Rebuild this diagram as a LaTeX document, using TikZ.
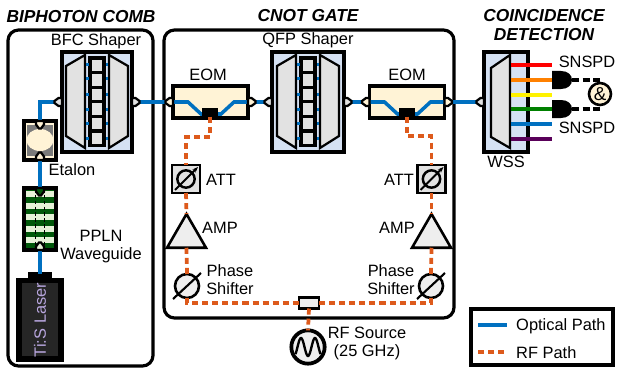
\documentclass[tikz,border=0pt]{standalone}
\usepackage{fontspec}
\setmainfont{Liberation Sans}
\usepackage{xcolor}
\usetikzlibrary{arrows.meta, shapes.geometric}

\definecolor{optblue}{HTML}{0070C0}
\definecolor{rforange}{HTML}{DD5A1C}
\definecolor{shaperblue}{HTML}{D5E1F3}
\definecolor{partgray}{HTML}{E2E2E2}
\definecolor{cream}{HTML}{FFF3D6}
\definecolor{pplndark}{HTML}{00580A}
\definecolor{pplnlight}{HTML}{E6F2D8}
\definecolor{laserlilac}{HTML}{B8A6DE}

\tikzset{
  lbl/.style={font=\fontsize{14}{15.4}\selectfont, align=center, inner sep=0pt},
  titlelbl/.style={font=\fontsize{14.8}{16.2}\selectfont\bfseries\itshape, align=center, inner sep=0pt},
  panel/.style={line width=2.7pt, rounded corners=9pt},
  device/.style={draw, line width=2.6pt, inner sep=0pt, outer sep=0pt},
  optical/.style={optblue, line width=3pt},
  rfpath/.style={rforange, line width=3.2pt, dash pattern=on 5.2pt off 3.4pt},
  ferrule/.pic={\draw[line width=1.9pt, line join=miter, fill=#1] (0,-4) -- (3.5,-4) -- (7.5,-1) -- (7.5,1) -- (3.5,4) -- (0,4) -- cycle;},
}

% grating, mask cells and grating of one pulse shaper
\newcommand{\shaperbody}[1]{
  \begin{scope}[shift={(#1,0)}]
    \draw[line width=1.9pt, fill=partgray] (-31,66) -- (-12,55) -- (-12,148) -- (-31,136) -- cycle;
    \draw[line width=1.9pt, fill=partgray] (31,66) -- (12,55) -- (12,148) -- (31,136) -- cycle;
    \foreach \y in {58,72.6,87.2,101.8,116.4,131}
      \draw[line width=2.6pt, fill=partgray] (-7,\y) rectangle (7,\y+14.6);
    \foreach \y in {65,79,94,109,123,138} {
      \fill[optblue] (-11,\y-1.5) rectangle (-8.5,\y+1.5);
      \fill[optblue] (8.5,\y-1.5) rectangle (11,\y+1.5);
    }
  \end{scope}
}

\begin{document}
\begin{tikzpicture}[x=0.03cm, y=-0.03cm]
\useasboundingbox (0,0) rectangle (617,368);

% panels
\draw[panel] (8,30) rectangle (153,366);
\draw[panel] (164,30) rectangle (454,318);
\node[titlelbl] (titlecomb) at (81,17) {BIPHOTON COMB};
\node[titlelbl] (titlegate) at (308,16) {CNOT GATE};
\node[titlelbl] (titledet) at (544,25) {COINCIDENCE\\DETECTION};

% optical devices
\node[device, fill=shaperblue, minimum width=2.1cm, minimum height=3cm] (bfc) at (97,102) {};
\node[device, fill=shaperblue, minimum width=2.16cm, minimum height=3cm] (qfp) at (308,102) {};
\node[device, fill=shaperblue, minimum width=1.32cm, minimum height=3cm] (wss) at (506,102) {};
\node[device, fill=cream, minimum width=2.25cm, minimum height=0.96cm] (eoma) at (210.5,102) {};
\node[device, fill=cream, minimum width=2.25cm, minimum height=0.96cm] (eomb) at (407,102) {};
\node[device, fill=cream, minimum width=0.96cm, minimum height=1.17cm] (etalon) at (40,140.5) {};
\node[device, fill=pplndark, minimum width=0.96cm, minimum height=1.86cm] (ppln) at (40,219) {};
\node[device, fill=black, minimum width=1.32cm, minimum height=2.4cm] (laser) at (40,320) {};
\node[device, fill=black, minimum width=0.6cm, minimum height=0.2cm] (lasertop) at (40,277) {};

\shaperbody{97}
\shaperbody{308}
\draw[line width=1.9pt, fill=partgray] (491,68) -- (510,55) -- (510,148) -- (491,137) -- cycle;

% etalon, ppln and laser details
\fill[black!52] (27,125) rectangle (53,156);
\fill[cream] (40,140) ellipse (13.5 and 11);
\foreach \y in {191,202.5,214,225.5,237}
  \fill[pplnlight] (26,\y) rectangle (54,\y+6);
\draw[densely dashed, line width=0.8pt] (35,189) -- (35,249);
\draw[densely dashed, line width=0.8pt] (44,189) -- (44,249);
\fill[black!85] (22,283) rectangle (58,356);
\node[lbl, rotate=90, text=laserlilac] (laserlbl) at (40,320) {Ti:S Laser};

% optical path
\draw[optical] (bfc.west) -| (etalon.north);
\draw[optical] (etalon.south) -- (ppln.north);
\draw[optical] (ppln.south) -- (lasertop.north);
\draw[optical] (bfc.east) -- (eoma.west);
\draw[optical] (eoma.east) -- (qfp.west);
\draw[optical] (qfp.east) -- (eomb.west);
\draw[optical] (eomb.east) -- (wss.west);
\draw[optical] (eoma.west) -- ++(15,0) -- ++(13,12) -- ++(20,0) -- ++(13,-12) -- (eoma.east);
\draw[optical] (eomb.west) -- ++(15,0) -- ++(13,12) -- ++(20,0) -- ++(13,-12) -- (eomb.east);

% fibre connectors
\path (bfc.west) pic[rotate=180] {ferrule=partgray};
\path (bfc.east) pic {ferrule=partgray};
\path (eoma.west) pic[rotate=180] {ferrule=cream};
\path (eoma.east) pic {ferrule=cream};
\path (qfp.west) pic[rotate=180] {ferrule=partgray};
\path (qfp.east) pic {ferrule=partgray};
\path (eomb.west) pic[rotate=180] {ferrule=cream};
\path (eomb.east) pic {ferrule=cream};
\path (wss.west) pic[rotate=180] {ferrule=partgray};
\path (etalon.north) pic[rotate=-90] {ferrule=cream};
\path (etalon.south) pic[rotate=90] {ferrule=cream};
\path (ppln.north) pic[rotate=-90] {ferrule=pplndark};
\path (ppln.south) pic[rotate=90] {ferrule=pplnlight};

% electrode pads
\node[fill=black, minimum width=0.48cm, minimum height=0.27cm, inner sep=0pt] (pada) at (210,112) {};
\node[fill=black, minimum width=0.48cm, minimum height=0.27cm, inner sep=0pt] (padb) at (407,112) {};

% RF parts
\node[device, line width=2.2pt, fill=partgray, minimum size=0.84cm] (atta) at (186,179) {};
\node[device, line width=2.2pt, fill=partgray, minimum size=0.84cm] (attb) at (431.5,179) {};
\node[regular polygon, regular polygon sides=3, draw, line width=2.2pt, fill=partgray!60, minimum size=1.35cm, inner sep=0pt, outer sep=0pt] (ampa) at (186.5,236.5) {};
\node[regular polygon, regular polygon sides=3, draw, line width=2.2pt, fill=partgray!60, minimum size=1.35cm, inner sep=0pt, outer sep=0pt] (ampb) at (431.5,236.5) {};
\node[circle, draw, line width=2.2pt, fill=partgray!60, minimum size=0.72cm, inner sep=0pt, outer sep=0pt] (psa) at (187,286) {};
\node[circle, draw, line width=2.2pt, fill=partgray!60, minimum size=0.72cm, inner sep=0pt, outer sep=0pt] (psb) at (431,286) {};
\node[device, line width=2.2pt, fill=partgray!60, minimum width=0.6cm, minimum height=0.33cm] (split) at (309,303) {};
\node[circle, draw, line width=3.2pt, fill=partgray!60, minimum size=1cm, inner sep=0pt, outer sep=0pt] (rfsrc) at (308,347) {};

% RF path
\draw[rfpath] (pada.south) -- ++(0,20) -| (atta.north);
\draw[rfpath] (padb.south) -- ++(0,19) -| (attb.north);
\draw[rfpath] (atta.south) -- (ampa.north);
\draw[rfpath] (attb.south) -- (ampb.north);
\draw[rfpath] (ampa.south) -- (psa.north);
\draw[rfpath] (ampb.south) -- (psb.north);
\draw[rfpath] (psa.south) |- (split.west);
\draw[rfpath] (split.east) -| (psb.south);
\draw[rfpath] (split.south) -- (rfsrc.north);

% slashes and source wave
\foreach \part in {atta,attb} {
  \node[circle, draw, line width=2.1pt, minimum size=0.52cm, inner sep=0pt] (\part ring) at (\part) {};
  \draw[line width=1.6pt, -{Stealth[length=5pt]}] (\part) ++(-11,11) -- ++(23,-23);
}
\foreach \part in {psa,psb}
  \draw[line width=1.8pt] (\part) ++(-14,13) -- ++(28,-26);
\draw[line width=2pt, shift={(rfsrc)}] plot[domain=-12.5:12.5, samples=60, smooth] (\x, {9*cos(\x*360/14)});

% WSS outputs
\foreach \y/\col in {65/red, 80/orange, 95/yellow, 109/green!50!black, 124/optblue, 139/violet!70!black} {
  \coordinate (wavea\y) at (511,\y);
  \coordinate (waveb\y) at (552,\y);
  \draw[\col, line width=3.4pt] (wavea\y) -- (waveb\y);
}

% detectors
\foreach \y in {80,109} {
  \fill (552,\y-9) -- (561,\y-9) .. controls (568,\y-9) and (572,\y-5) .. (572,\y) .. controls (572,\y+5) and (568,\y+9) .. (561,\y+9) -- (552,\y+9) -- cycle;
  \coordinate (gate\y) at (572,\y);
}
\node[circle, draw, line width=2.2pt, fill=cream, minimum size=0.66cm, inner sep=0pt, font=\fontsize{16}{17}\selectfont] (andgate) at (600,94) {\&};
\coordinate (enda) at (602,80);
\coordinate (endb) at (600,109);
\draw[line width=3pt, dash pattern=on 6pt off 3pt] (gate80) -- (enda);
\draw[line width=3pt, dash pattern=on 6pt off 3pt] (gate109) -- (endb);

% labels
\node[lbl] (bfclbl) at (96,41) {BFC Shaper};
\node[lbl] (qfplbl) at (308,40) {QFP Shaper};
\node[lbl] (eomalbl) at (208,75) {EOM};
\node[lbl] (eomblbl) at (407,75) {EOM};
\node[lbl] (etalonlbl) at (72,170) {Etalon};
\node[lbl] (ppln lbl) at (101,247) {PPLN\\Waveguide};
\node[lbl] (attalbl) at (221,179.5) {ATT};
\node[lbl] (attblbl) at (399,179.5) {ATT};
\node[lbl] (ampalbl) at (220,228) {AMP};
\node[lbl] (ampblbl) at (397,228) {AMP};
\node[lbl] (psalbl) at (230,280) {Phase\\Shifter};
\node[lbl] (psblbl) at (391,280) {Phase\\Shifter};
\node[lbl] (rflbl) at (367,343) {RF Source\\(25 GHz)};
\node[lbl] (wsslbl) at (506,162) {WSS};
\node[lbl] (snspda) at (587,62) {SNSPD};
\node[lbl] (snspdb) at (587,128) {SNSPD};

% legend
\node[device, line width=2.8pt, minimum width=4.26cm, minimum height=1.68cm] (legend) at (542,337) {};
\node[lbl, anchor=west] (optlbl) at (516,326) {Optical Path};
\node[lbl, anchor=west] (rfpathlbl) at (516,353) {RF Path};
\coordinate (optkey) at (478,325);
\coordinate (rfkey) at (478,352);
\draw[optical] (optkey) -- ++(29,0);
\draw[rfpath] (rfkey) -- ++(29,0);
\end{tikzpicture}
\end{document}
